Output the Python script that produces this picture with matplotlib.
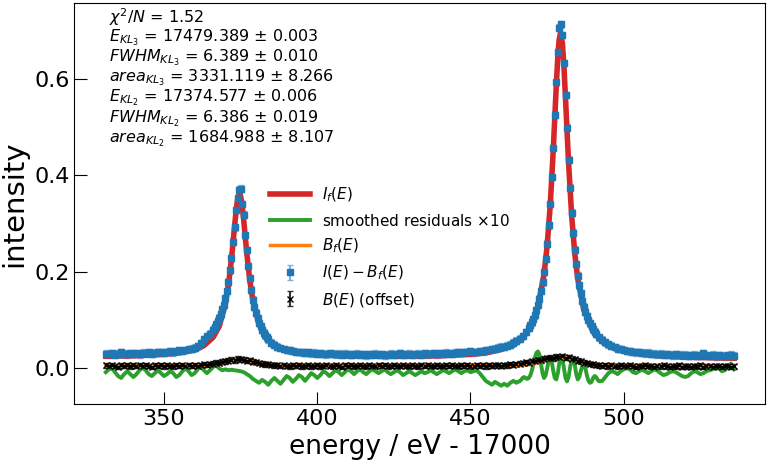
import numpy as np
import matplotlib
matplotlib.use('Agg')
import matplotlib.pyplot as plt

# energy grid of the measured points (eV - 17000)
e_data = np.arange(331, 537)

# I(E) - B_f(E)
i_data = [
    0.030, 0.029, 0.031, 0.028, 0.030, 0.033, 0.030, 0.029, 0.031, 0.030,
    0.031, 0.029, 0.032, 0.031, 0.033, 0.030, 0.032, 0.034, 0.033, 0.032,
    0.034, 0.035, 0.033, 0.036, 0.037, 0.036, 0.038, 0.040, 0.041, 0.043,
    0.046, 0.052, 0.060, 0.066, 0.072, 0.080, 0.092, 0.105, 0.122, 0.145,
    0.178, 0.228, 0.292, 0.352, 0.372, 0.318, 0.245, 0.186, 0.142, 0.115,
    0.094, 0.080, 0.068, 0.060, 0.053, 0.049, 0.045, 0.042, 0.040, 0.038,
    0.037, 0.036, 0.034, 0.034, 0.033, 0.032, 0.033, 0.031, 0.032, 0.030,
    0.031, 0.030, 0.029, 0.031, 0.030, 0.029, 0.030, 0.028, 0.030, 0.029,
    0.028, 0.029, 0.030, 0.028, 0.029, 0.027, 0.029, 0.028, 0.030, 0.028,
    0.029, 0.027, 0.028, 0.030, 0.028, 0.029, 0.031, 0.028, 0.029, 0.030,
    0.028, 0.029, 0.030, 0.028, 0.031, 0.029, 0.030, 0.031, 0.029, 0.031,
    0.030, 0.032, 0.031, 0.030, 0.032, 0.033, 0.032, 0.034, 0.033, 0.035,
    0.033, 0.034, 0.036, 0.035, 0.037, 0.038, 0.040, 0.041, 0.043, 0.045,
    0.044, 0.047, 0.049, 0.053, 0.057, 0.061, 0.067, 0.075, 0.084, 0.095,
    0.110, 0.131, 0.160, 0.200, 0.258, 0.340, 0.456, 0.592, 0.705, 0.690,
    0.566, 0.432, 0.322, 0.246, 0.192, 0.156, 0.128, 0.108, 0.093, 0.081,
    0.071, 0.064, 0.059, 0.054, 0.050, 0.047, 0.044, 0.041, 0.040, 0.038,
    0.036, 0.035, 0.034, 0.033, 0.034, 0.032, 0.031, 0.032, 0.030, 0.030,
    0.029, 0.030, 0.028, 0.029, 0.028, 0.027, 0.029, 0.028, 0.027, 0.028,
    0.026, 0.027, 0.028, 0.026, 0.027, 0.031, 0.027, 0.026, 0.028, 0.025,
    0.027, 0.026, 0.025, 0.027, 0.028, 0.026,
]
# extra half-step points read around the two lines
e_half = np.concatenate([np.arange(366.5, 384, 1.0), np.arange(469.5, 491, 1.0)])
i_half = [
    0.085, 0.098, 0.112, 0.132, 0.160, 0.203, 0.262, 0.328, 0.370, 0.340,
    0.276, 0.212, 0.163, 0.128, 0.104, 0.087, 0.074, 0.064,
    0.089, 0.102, 0.120, 0.144, 0.178, 0.227, 0.296, 0.396, 0.525, 0.655,
    0.712, 0.632, 0.498, 0.374, 0.281, 0.216, 0.172, 0.140, 0.117, 0.100,
    0.087, 0.076,
]
i_err = 0.007

# B(E) (offset)
b_data = [
    0.006, 0.004, 0.007, 0.005, 0.003, 0.006, 0.005, 0.007, 0.004, 0.006,
    0.005, 0.007, 0.004, 0.006, 0.005, 0.003, 0.006, 0.005, 0.007, 0.004,
    0.006, 0.005, 0.004, 0.007, 0.005, 0.006, 0.004, 0.006, 0.005, 0.007,
    0.005, 0.006, 0.008, 0.007, 0.009, 0.010, 0.012, 0.011, 0.014, 0.015,
    0.016, 0.018, 0.017, 0.020, 0.019, 0.018, 0.016, 0.017, 0.014, 0.013,
    0.011, 0.010, 0.008, 0.009, 0.007, 0.006, 0.007, 0.005, 0.006, 0.005,
    0.004, 0.006, 0.005, 0.007, 0.004, 0.005, 0.006, 0.004, 0.005, 0.006,
    0.004, 0.005, 0.007, 0.005, 0.004, 0.006, 0.005, 0.003, 0.006, 0.005,
    0.006, 0.004, 0.005, 0.007, 0.005, 0.004, 0.006, 0.005, 0.004, 0.006,
    0.005, 0.007, 0.004, 0.005, 0.006, 0.004, 0.005, 0.007, 0.005, 0.004,
    0.006, 0.005, 0.004, 0.006, 0.005, 0.007, 0.004, 0.005, 0.006, 0.005,
    0.004, 0.006, 0.005, 0.007, 0.005, 0.004, 0.006, 0.005, 0.006, 0.004,
    0.005, 0.007, 0.005, 0.006, 0.004, 0.006, 0.005, 0.007, 0.006, 0.005,
    0.007, 0.006, 0.008, 0.007, 0.009, 0.010, 0.011, 0.013, 0.012, 0.015,
    0.016, 0.018, 0.017, 0.020, 0.021, 0.022, 0.021, 0.024, 0.023, 0.025,
    0.022, 0.023, 0.020, 0.019, 0.016, 0.015, 0.012, 0.011, 0.009, 0.008,
    0.007, 0.006, 0.005, 0.007, 0.004, 0.006, 0.005, 0.004, 0.006, 0.005,
    0.004, 0.006, 0.005, 0.003, 0.005, 0.004, 0.006, 0.005, 0.004, 0.003,
    0.005, 0.004, 0.006, 0.004, 0.003, 0.005, 0.004, 0.006, 0.003, 0.005,
    0.004, 0.003, 0.005, 0.004, 0.006, 0.003, 0.004, 0.005, 0.003, 0.004,
    0.005, 0.003, 0.004, 0.005, 0.003, 0.004,
]
b_err = 0.005

# fitted I_f(E)
e_fit = [331, 340, 350, 355, 360, 363, 366, 368, 370, 371, 372, 372.5, 373, 373.5,
         374, 374.6, 375, 375.5, 376, 376.5, 377, 378, 379, 381, 383, 386, 390,
         395, 400, 410, 420, 430, 440, 450, 455, 460, 464, 467, 470, 472, 474,
         475, 476, 477, 477.5, 478, 478.5, 478.9, 479.4, 480, 480.5, 481, 481.5,
         482, 483, 484, 485, 487, 490, 493, 497, 502, 510, 520, 536]
i_fit = [0.025, 0.026, 0.029, 0.032, 0.038, 0.047, 0.064, 0.087, 0.133, 0.172,
         0.226, 0.259, 0.293, 0.325, 0.350, 0.361, 0.356, 0.336, 0.307, 0.272,
         0.239, 0.181, 0.140, 0.091, 0.066, 0.048, 0.038, 0.033, 0.028, 0.026,
         0.025, 0.025, 0.026, 0.029, 0.032, 0.039, 0.048, 0.062, 0.090, 0.126,
         0.195, 0.253, 0.336, 0.451, 0.519, 0.586, 0.646, 0.679, 0.695, 0.672,
         0.624, 0.559, 0.492, 0.426, 0.317, 0.239, 0.185, 0.121, 0.076, 0.055,
         0.041, 0.033, 0.027, 0.023, 0.021]

# fitted background B_f(E)
e_bg = [331, 360, 364, 367, 370, 372, 374, 375, 376, 378, 380, 383, 386, 390,
        460, 466, 470, 473, 476, 478, 480, 482, 484, 487, 490, 494, 536]
b_fit = [0.005, 0.005, 0.006, 0.008, 0.012, 0.015, 0.018, 0.018, 0.017, 0.015,
         0.012, 0.009, 0.006, 0.005, 0.005, 0.006, 0.009, 0.014, 0.019, 0.022,
         0.023, 0.021, 0.017, 0.011, 0.007, 0.005, 0.004]

# smoothed residuals x10
e_res = np.concatenate([np.arange(331, 466), np.arange(465.5, 492.5, 0.5), np.arange(493, 537)])
res = [
    -0.008, -0.002, 0.000, -0.008, -0.016, -0.020, -0.012, -0.006, -0.012, -0.018,
    -0.012, -0.004, 0.002, -0.004, -0.012, -0.016, -0.010, -0.004, -0.010, -0.016,
    -0.012, -0.006, -0.010, -0.018, -0.014, -0.006, 0.000, -0.006, -0.014, -0.010,
    -0.002, 0.004, -0.004, -0.010, -0.004, 0.003, 0.006, 0.000, -0.004, -0.002,
    -0.004, -0.003, -0.004, -0.005, -0.006, -0.008, -0.012, -0.016, -0.022, -0.026,
    -0.030, -0.024, -0.028, -0.034, -0.026, -0.020, -0.026, -0.032, -0.024, -0.016,
    -0.020, -0.028, -0.022, -0.014, -0.018, -0.026, -0.018, -0.010, -0.014, -0.020,
    -0.014, -0.006, -0.010, -0.016, -0.010, -0.004, -0.008, -0.014, -0.008, -0.002,
    -0.006, -0.012, -0.006, -0.002, -0.008, -0.012, -0.006, -0.002, -0.006, -0.010,
    -0.006, -0.002, -0.008, -0.012, -0.008, -0.004, -0.008, -0.014, -0.010, -0.006,
    -0.010, -0.014, -0.010, -0.006, -0.010, -0.008, -0.004, -0.008, -0.012, -0.008,
    -0.004, -0.006, -0.010, -0.006, -0.002, -0.006, -0.010, -0.006, -0.004, -0.008,
    -0.006, -0.004, -0.010, -0.018, -0.026, -0.030, -0.034, -0.028, -0.032, -0.036,
    -0.032, -0.036, -0.030, -0.026, -0.030,
    # 465.5 .. 492 in half steps
    -0.028, -0.027, -0.024, -0.020, -0.018, -0.020, -0.022, -0.020, -0.015, -0.005,
    0.008, 0.022, 0.032, 0.035, 0.028, 0.010, -0.010, -0.020, -0.015, 0.000,
    0.015, 0.021, 0.014, -0.005, -0.020, -0.023, -0.010, 0.012, 0.025, 0.020,
    0.000, -0.020, -0.027, -0.018, 0.002, 0.018, 0.021, 0.008, -0.012, -0.023,
    -0.018, -0.005, 0.005, 0.008, 0.000, -0.015, -0.026, -0.030, -0.028, -0.020,
    -0.016, -0.018, -0.024, -0.027,
    # 493 .. 536
    -0.026, -0.018, -0.010, -0.006, -0.008, -0.012, -0.006, -0.002, 0.001, -0.002,
    -0.008, -0.010, -0.006, -0.003, -0.006, -0.010, -0.006, -0.002, -0.005, -0.010,
    -0.014, -0.012, -0.008, -0.006, -0.008, -0.012, -0.016, -0.018, -0.016, -0.010,
    -0.006, -0.008, -0.012, -0.010, -0.006, -0.004, -0.002, 0.002, 0.001, -0.006,
    -0.004, 0.004, 0.010, -0.002,
]

fit_text = '\n'.join([
    r'$\chi^2/N$ = 1.52',
    r'$E_{KL_3}$ = 17479.389 $\pm$ 0.003',
    r'$FWHM_{KL_3}$ = 6.389 $\pm$ 0.010',
    r'$area_{KL_3}$ = 3331.119 $\pm$ 8.266',
    r'$E_{KL_2}$ = 17374.577 $\pm$ 0.006',
    r'$FWHM_{KL_2}$ = 6.386 $\pm$ 0.019',
    r'$area_{KL_2}$ = 1684.988 $\pm$ 8.107',
])

fig = plt.figure(figsize=(7.67, 4.67), dpi=100)
ax = fig.add_axes([0.097, 0.135, 0.901, 0.859])

e_all = np.concatenate([e_data, e_half])
i_all = np.concatenate([i_data, i_half])
h_i = ax.errorbar(e_all, i_all, yerr=i_err, fmt='s', ms=5, color='#1f77b4',
                  ecolor='#7fb2da', elinewidth=1.5, capsize=2, label=r'$I(E) - B_f(E)$')
h_b = ax.errorbar(e_data, b_data, yerr=b_err, fmt='x', ms=4, color='black',
                  ecolor='#333333', elinewidth=1.5, capsize=2, label=r'$B(E)$ (offset)')
h_fit, = ax.plot(e_fit, i_fit, color='#d62728', lw=4, label=r'$I_f(E)$')
h_res, = ax.plot(e_res, res, color='#2ca02c', lw=2.8, label=r'smoothed residuals $\times$10')
h_bg, = ax.plot(e_bg, b_fit, color='#ff7f0e', lw=2.5, label=r'$B_f(E)$')

ax.text(0.05, 0.992, fit_text, transform=ax.transAxes, ha='left', va='top',
        fontsize=11.5, linespacing=0.97)

ax.legend(handles=[h_fit, h_res, h_bg, h_i, h_b], loc='upper left',
          bbox_to_anchor=(0.263, 0.578), frameon=False, fontsize=11,
          handlelength=2.6, labelspacing=0.55)

ax.set_xlabel('energy / eV - 17000', fontsize=19)
ax.set_ylabel('intensity', fontsize=21)
ax.set_xticks([350, 400, 450, 500])
ax.set_yticks([0.0, 0.2, 0.4, 0.6])
ax.tick_params(direction='in', length=9, labelsize=16)

fig.savefig('out.png', dpi=100)
